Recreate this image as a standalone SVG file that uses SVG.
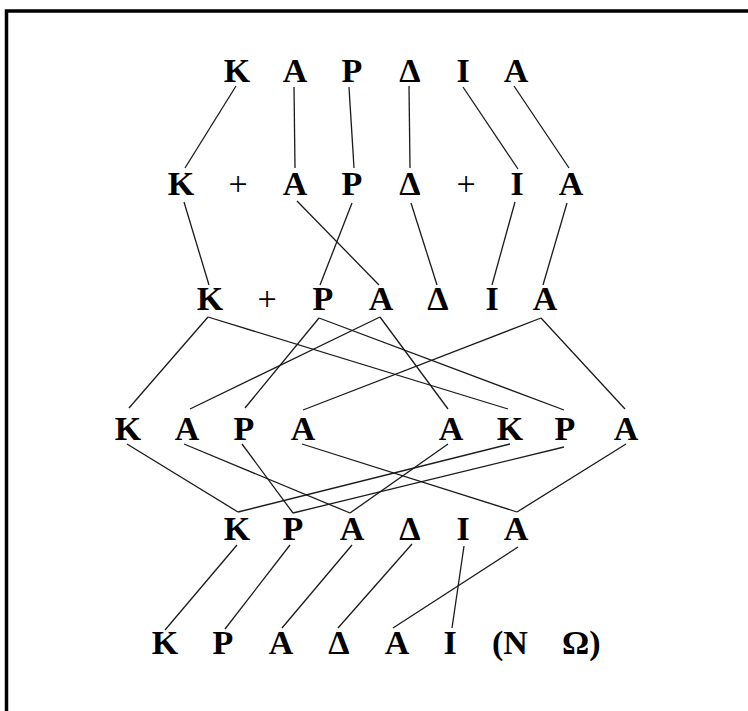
<svg xmlns="http://www.w3.org/2000/svg" width="748" height="711" viewBox="0 0 748 711">
<style>
text{font-family:"Liberation Serif","Times New Roman",serif;font-weight:bold;font-size:34px;fill:#000;text-anchor:middle}
text.op{font-weight:normal;font-size:34px}
text.st{text-anchor:start}
#connectors line{stroke:#1a1a1a;stroke-width:1.3;fill:none}
</style>
<rect width="748" height="711" fill="#fff"/>
<path d="M6.5,711 V11 H748" fill="none" stroke="#000" stroke-width="3.5"/>
<g id="connectors">
<line x1="236" y1="86" x2="185" y2="168"/>
<line x1="294" y1="87" x2="295" y2="168"/>
<line x1="349" y1="87" x2="354" y2="168"/>
<line x1="409" y1="86" x2="410" y2="168"/>
<line x1="463" y1="87" x2="518" y2="169"/>
<line x1="514" y1="86" x2="569" y2="168"/>
<line x1="184" y1="202" x2="209" y2="285"/>
<line x1="297" y1="201" x2="379" y2="285"/>
<line x1="352" y1="203" x2="320" y2="285"/>
<line x1="411" y1="203" x2="437" y2="285"/>
<line x1="515" y1="202" x2="492" y2="285"/>
<line x1="567" y1="203" x2="543" y2="285"/>
<line x1="208" y1="317" x2="129" y2="408"/>
<line x1="208" y1="317" x2="508" y2="409"/>
<line x1="319" y1="318" x2="245" y2="408"/>
<line x1="319" y1="318" x2="564" y2="410"/>
<line x1="380" y1="317" x2="190" y2="409"/>
<line x1="380" y1="317" x2="448" y2="409"/>
<line x1="541" y1="318" x2="303" y2="410"/>
<line x1="541" y1="318" x2="625" y2="409"/>
<line x1="127" y1="444" x2="238" y2="512"/>
<line x1="184" y1="444" x2="350" y2="513"/>
<line x1="242" y1="444" x2="293" y2="513"/>
<line x1="302" y1="444" x2="517" y2="512"/>
<line x1="448" y1="444" x2="350" y2="513"/>
<line x1="510" y1="444" x2="238" y2="512"/>
<line x1="564" y1="447" x2="293" y2="513"/>
<line x1="626" y1="444" x2="517" y2="512"/>
<line x1="237" y1="545" x2="165" y2="630"/>
<line x1="290" y1="545" x2="225" y2="629"/>
<line x1="352" y1="545" x2="282" y2="628"/>
<line x1="412" y1="544" x2="338" y2="628"/>
<line x1="464" y1="546" x2="452" y2="628"/>
<line x1="518" y1="547" x2="393" y2="628"/>
</g>
<g id="r1-K"><text x="237" y="82">Κ</text></g>
<g id="r1-A1"><text x="295" y="82">Α</text></g>
<g id="r1-P"><text x="352" y="82">Ρ</text></g>
<g id="r1-D"><text x="410" y="82">Δ</text></g>
<g id="r1-I"><text x="463" y="82">Ι</text></g>
<g id="r1-A2"><text x="516" y="82">Α</text></g>

<g id="r2-K"><text x="181" y="195">Κ</text></g>
<g id="r2-plus1"><text class="op" x="238" y="195">+</text></g>
<g id="r2-A1"><text x="295" y="195">Α</text></g>
<g id="r2-P"><text x="352" y="195">Ρ</text></g>
<g id="r2-D"><text x="410" y="195">Δ</text></g>
<g id="r2-plus2"><text class="op" x="466" y="195">+</text></g>
<g id="r2-I"><text x="517" y="195">Ι</text></g>
<g id="r2-A2"><text x="571" y="195">Α</text></g>

<g id="r3-K"><text x="210" y="310">Κ</text></g>
<g id="r3-plus"><text class="op" x="267" y="310">+</text></g>
<g id="r3-P"><text x="323" y="310">Ρ</text></g>
<g id="r3-A1"><text x="381" y="310">Α</text></g>
<g id="r3-D"><text x="438" y="310">Δ</text></g>
<g id="r3-I"><text x="492" y="310">Ι</text></g>
<g id="r3-A2"><text x="545" y="310">Α</text></g>

<g id="r4-K1"><text x="128" y="440">Κ</text></g>
<g id="r4-A1"><text x="187" y="440">Α</text></g>
<g id="r4-P1"><text x="244" y="440">Ρ</text></g>
<g id="r4-A2"><text x="303" y="440">Α</text></g>
<g id="r4-A3"><text x="451" y="440">Α</text></g>
<g id="r4-K2"><text x="510" y="440">Κ</text></g>
<g id="r4-P2"><text x="565" y="440">Ρ</text></g>
<g id="r4-A4"><text x="626" y="440">Α</text></g>

<g id="r5-K"><text x="237" y="540">Κ</text></g>
<g id="r5-P"><text x="293" y="540">Ρ</text></g>
<g id="r5-A1"><text x="352" y="540">Α</text></g>
<g id="r5-D"><text x="410" y="540">Δ</text></g>
<g id="r5-I"><text x="463" y="540">Ι</text></g>
<g id="r5-A2"><text x="516" y="540">Α</text></g>

<g id="r6-K"><text x="165" y="654">Κ</text></g>
<g id="r6-P"><text x="223" y="654">Ρ</text></g>
<g id="r6-A1"><text x="281" y="654">Α</text></g>
<g id="r6-D"><text x="339" y="654">Δ</text></g>
<g id="r6-A2"><text x="397" y="654">Α</text></g>
<g id="r6-I"><text x="450" y="654">Ι</text></g>
<g id="r6-N"><text class="st" x="492" y="654">(Ν</text></g>
<g id="r6-O"><text class="st" x="562" y="654">Ω)</text></g>
</svg>
